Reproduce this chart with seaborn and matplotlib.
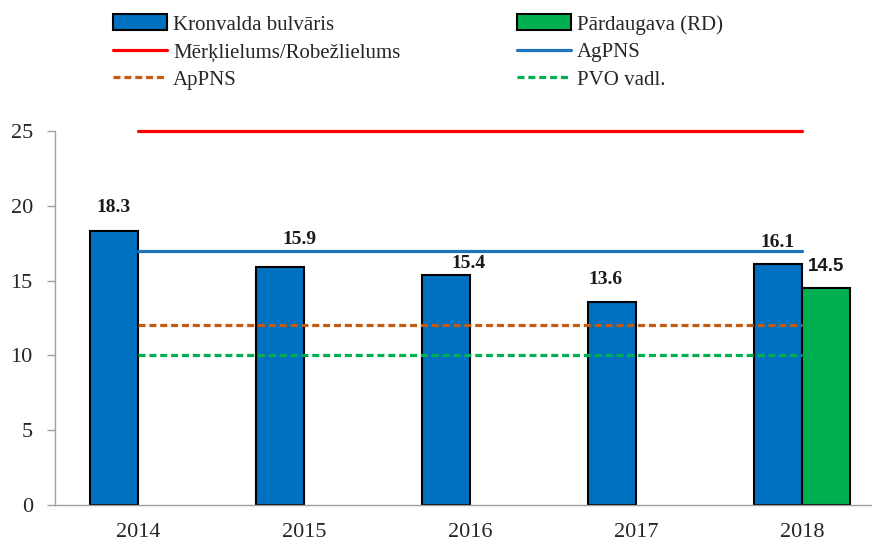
import matplotlib
matplotlib.use("Agg")
import matplotlib.pyplot as plt
import seaborn as sns
import pandas as pd
import numpy as np
from matplotlib.patches import Patch
from matplotlib.lines import Line2D

years = ["2014", "2015", "2016", "2017", "2018"]
kronvalda = [18.3, 15.9, 15.4, 13.6, 16.1]
pardaugava = [np.nan, np.nan, np.nan, np.nan, 14.5]
series_names = ["Kronvalda bulvāris", "Pārdaugava (RD)"]
limit_names = ["Mērķlielums/Robežlielums", "AgPNS", "ApPNS", "PVO vadl."]
limit_values = [25, 17, 12, 10]

sns.set_theme(style="white")
plt.rcParams["font.family"] = ["Liberation Serif", "DejaVu Serif"]

fig = plt.figure(figsize=(8.72, 5.43), dpi=100)
ax = fig.add_axes([55/872, 38/543, 830/872, 374/543])

df = pd.DataFrame({
    "year": years * 2,
    "value": kronvalda + pardaugava,
    "series": [series_names[0]] * 5 + [series_names[1]] * 5,
})
bar_colors = ["#0070C0", "#00B050"]
sns.barplot(data=df, x="year", y="value", hue="series", order=years,
            hue_order=series_names, palette=bar_colors, width=0.58,
            errorbar=None, edgecolor="black", linewidth=1.5, saturation=1,
            legend=False, ax=ax)

line_colors = ["#FF0000", "#1F74BE", "#C55A11", "#00B050"]
line_styles = ["-", "-", (0, (2.2, 1.2)), (0, (2.2, 1.2))]
for name, val, c, ls in zip(limit_names, limit_values, line_colors, line_styles):
    ldf = pd.DataFrame({"x": np.arange(len(years)), "y": [val] * len(years)})
    sns.lineplot(data=ldf, x="x", y="y", color=c, linestyle=ls, linewidth=2.3,
                 ax=ax, clip_on=False, zorder=3)

# data labels
bar_offsets = [(0, 24), (20, 28), (23, 11), (-6, 22), (0, 22)]
for i, v in enumerate(kronvalda):
    dx, dy = bar_offsets[i]
    ax.annotate(f"{v:.1f}", (i - 0.145, v), xytext=(dx * 0.72, dy * 0.72),
                textcoords="offset points", ha="center", va="center",
                fontsize=14, fontweight="bold", color="#1a1a1a")
for i, v in enumerate(pardaugava):
    if not np.isnan(v):
        ax.annotate(f"{v:.1f}", (i + 0.145, v), xytext=(0, 22 * 0.72),
                    textcoords="offset points", ha="center", va="center",
                    fontsize=13.5, fontweight="bold", color="#1a1a1a",
                    family=["Liberation Sans"])

ax.set_xlim(-0.5, 4.5)
ax.set_ylim(0, 25)
ax.set_yticks([0, 5, 10, 15, 20, 25])
ax.set_xlabel("")
ax.set_ylabel("")
ax.set_xticks(range(5))
ax.set_xticklabels(years)
ax.set_xticks(np.arange(-0.5, 5.0, 1.0), minor=True)
ax.tick_params(axis="x", which="major", length=0, pad=13, labelsize=16)
ax.tick_params(axis="x", which="minor", length=5, color="#A0A0A0", width=1, direction="out")
ax.tick_params(axis="y", length=6, color="#A0A0A0", width=1, pad=10, labelsize=16, direction="out", left=True)
for s in ["top", "right"]:
    ax.spines[s].set_visible(False)
for s in ["left", "bottom"]:
    ax.spines[s].set_color("#A0A0A0")
    ax.spines[s].set_linewidth(1)

handles = [
    Patch(facecolor=bar_colors[0], edgecolor="black", linewidth=1.5),
    Line2D([], [], color=line_colors[0], lw=2.3),
    Line2D([], [], color=line_colors[2], lw=2.3, linestyle=line_styles[2]),
    Patch(facecolor=bar_colors[1], edgecolor="black", linewidth=1.5),
    Line2D([], [], color=line_colors[1], lw=2.3),
    Line2D([], [], color=line_colors[3], lw=2.3, linestyle=line_styles[3]),
]
labels = [series_names[0], limit_names[0], limit_names[2],
          series_names[1], limit_names[1], limit_names[3]]
fig.legend(handles, labels, ncol=2, frameon=False, fontsize=15,
           loc="upper left", bbox_to_anchor=(100/872, 1.0 - 2/543),
           handlelength=2.6, handleheight=0.8, handletextpad=0.3,
           columnspacing=5.6, labelspacing=0.35, borderaxespad=0.2)

fig.savefig("out.png", dpi=100)
